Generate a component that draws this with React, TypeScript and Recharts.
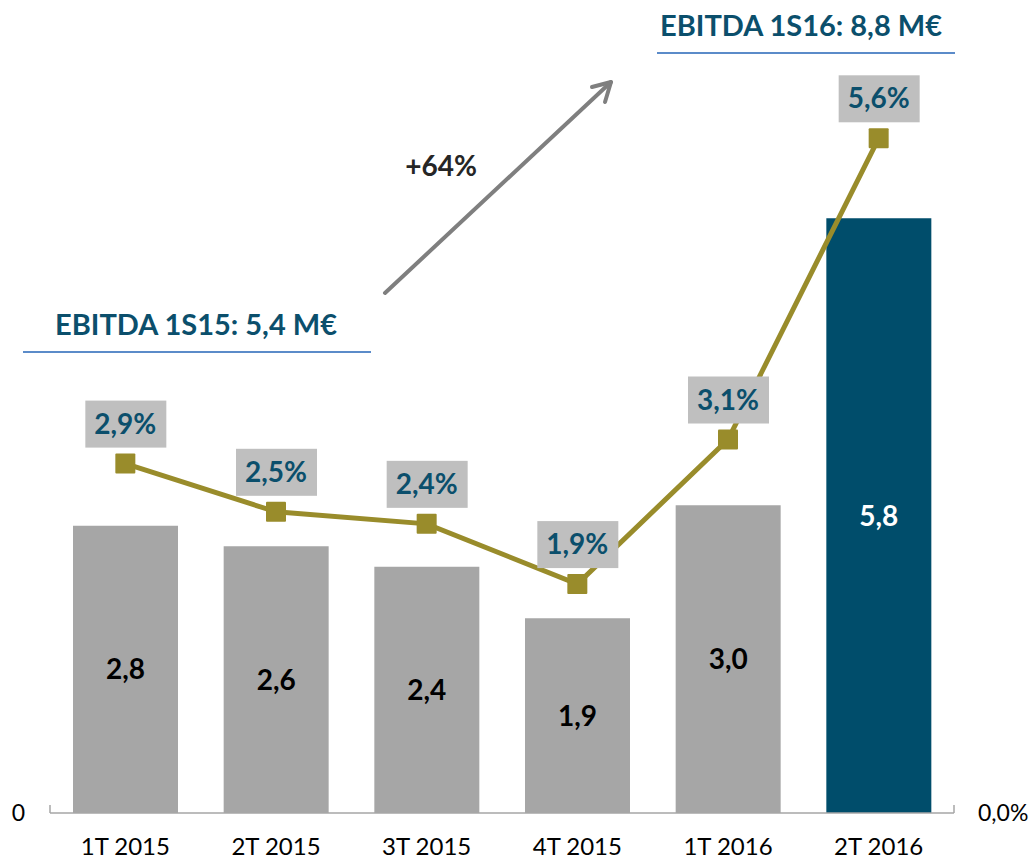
import {
  Bar,
  Cell,
  ComposedChart,
  LabelList,
  Line,
  XAxis,
  YAxis,
} from "recharts";

const quarters = ["1T 2015", "2T 2015", "3T 2015", "4T 2015", "1T 2016", "2T 2016"];
const ebitda = [2.8, 2.6, 2.4, 1.9, 3.0, 5.8];
const margin = [2.9, 2.5, 2.4, 1.9, 3.1, 5.6];

const FONT = "Lato, Carlito, 'Open Sans', sans-serif";
const TEAL = "#0b4f6c";
const BAR_GRAY = "#a6a6a6";
const BAR_DARK = "#004d6b";
const OLIVE = "#998c2b";
const RULE_BLUE = "#5b8bc9";

const data = quarters.map((q, i) => ({ q, ebitda: ebitda[i], margin: margin[i] }));

const fmt = (v: number, d = 1) => v.toFixed(d).replace(".", ",");

function BarValue(props: any) {
  const { x, y, width, height, value, index } = props;
  const last = index === quarters.length - 1;
  return (
    <text
      x={x + width / 2}
      y={y + height / 2 + 10}
      textAnchor="middle"
      fontFamily={FONT}
      fontWeight={700}
      fontSize={28}
      fill={last ? "#ffffff" : "#000000"}
    >
      {fmt(value)}
    </text>
  );
}

function MarginTag(props: any) {
  const { x, y, value } = props;
  const cy = y - 40;
  return (
    <g>
      <rect x={x - 40} y={cy - 23} width={81} height={47} fill="#bfbfbf" />
      <text
        x={x}
        y={cy + 10}
        textAnchor="middle"
        fontFamily={FONT}
        fontWeight={700}
        fontSize={28}
        fill={TEAL}
      >
        {fmt(value) + "%"}
      </text>
    </g>
  );
}

function SquareDot(props: any) {
  const { cx, cy } = props;
  return <rect x={cx - 10} y={cy - 10} width={20} height={20} rx={1} fill={OLIVE} />;
}

export default function App() {
  return (
    <div style={{ position: "absolute", left: 0, top: 0, width: 1032, height: 859, background: "#fff" }}>
      <ComposedChart
        width={1032}
        height={859}
        data={data}
        margin={{ top: 13, right: 0, left: 0, bottom: 0 }}
      >
        <XAxis
          dataKey="q"
          height={46}
          axisLine={{ stroke: BAR_GRAY, strokeWidth: 1.5 }}
          tickLine={false}
          tickMargin={19}
          tick={{ fontFamily: FONT, fontSize: 24, fill: "#000" }}
          interval={0}
        />
        <YAxis
          yAxisId="left"
          width={50}
          domain={[0, 7.8]}
          ticks={[0]}
          axisLine={false}
          tickLine={false}
          tickSize={0}
          tickMargin={25}
          tick={{ fontFamily: FONT, fontSize: 23, fill: "#000" }}
        />
        <YAxis
          yAxisId="right"
          orientation="right"
          width={78}
          domain={[0, 6.64]}
          ticks={[0]}
          axisLine={false}
          tickLine={false}
          tickSize={0}
          tickMargin={24}
          tickFormatter={(v: number) => fmt(v) + "%"}
          tick={{ fontFamily: FONT, fontSize: 23, fill: "#000" }}
        />
        <Bar yAxisId="left" dataKey="ebitda" barSize={105} isAnimationActive={false}>
          {data.map((_, i) => (
            <Cell key={i} fill={i === data.length - 1 ? BAR_DARK : BAR_GRAY} />
          ))}
          <LabelList dataKey="ebitda" content={<BarValue />} />
        </Bar>
        <Line
          yAxisId="right"
          dataKey="margin"
          stroke={OLIVE}
          strokeWidth={5}
          dot={<SquareDot />}
          activeDot={false}
          isAnimationActive={false}
        >
          <LabelList dataKey="margin" content={<MarginTag />} />
        </Line>
      </ComposedChart>

      <svg
        width={1032}
        height={859}
        style={{ position: "absolute", left: 0, top: 0, pointerEvents: "none" }}
      >
        <line x1={50} y1={805} x2={50} y2={813} stroke={BAR_GRAY} strokeWidth={1.5} />
        <line x1={954} y1={805} x2={954} y2={813} stroke={BAR_GRAY} strokeWidth={1.5} />

        <text x={196} y={335} textAnchor="middle" fontFamily={FONT} fontWeight={700} fontSize={29} fill={TEAL}>
          EBITDA 1S15: 5,4 M€
        </text>
        <line x1={23} y1={352} x2={371} y2={352} stroke={RULE_BLUE} strokeWidth={2} />

        <text x={801} y={36} textAnchor="middle" fontFamily={FONT} fontWeight={700} fontSize={29} fill={TEAL}>
          EBITDA 1S16: 8,8 M€
        </text>
        <line x1={657} y1={53} x2={955} y2={53} stroke={RULE_BLUE} strokeWidth={2} />

        <text x={441} y={176} textAnchor="middle" fontFamily={FONT} fontWeight={700} fontSize={28} fill="#262626">
          +64%
        </text>
        <g stroke="#7f7f7f" strokeWidth={4} strokeLinecap="round" fill="none">
          <line x1={385} y1={293} x2={611} y2={82} />
          <polyline points="592,87 611,82 605,102" strokeLinejoin="round" />
        </g>
      </svg>
    </div>
  );
}
